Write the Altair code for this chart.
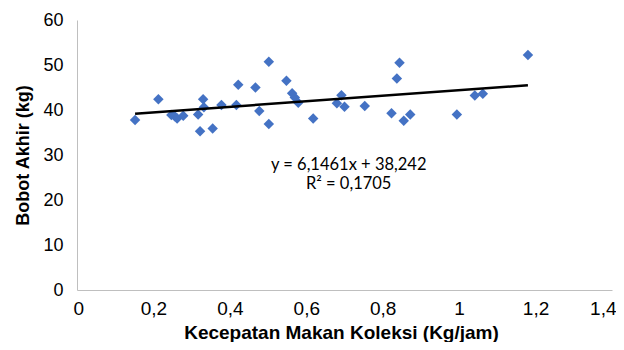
import altair as alt
import pandas as pd

kecepatan = [0.152, 0.213, 0.247, 0.256, 0.262, 0.278, 0.317, 0.322, 0.330, 0.332,
             0.355, 0.378, 0.417, 0.422, 0.467, 0.477, 0.502, 0.502, 0.548, 0.563,
             0.570, 0.579, 0.618, 0.680, 0.692, 0.700, 0.753, 0.823, 0.837, 0.844,
             0.855, 0.872, 0.994, 1.041, 1.062, 1.180]
bobot = [37.8, 42.4, 38.9, 38.6, 38.1, 38.7, 39.0, 35.3, 42.4, 40.6,
         35.9, 41.1, 41.1, 45.6, 45.0, 39.8, 50.7, 36.9, 46.5, 43.7,
         42.8, 41.6, 38.1, 41.5, 43.3, 40.7, 40.9, 39.3, 47.0, 50.5,
         37.6, 39.0, 39.0, 43.2, 43.6, 52.2]

slope = 6.1461
intercept = 38.242
eq_lines = ["y = 6,1461x + 38,242", "R² = 0,1705"]

df = pd.DataFrame({"x": kecepatan, "y": bobot})
xs = [min(kecepatan), max(kecepatan)]
trend = pd.DataFrame({"x": xs, "y": [intercept + slope * v for v in xs]})
eq = pd.DataFrame({"x": [0.711, 0.711], "y": [27.8, 23.6], "t": eq_lines})

label_expr = "replace(format(datum.value, '~g'), '.', ',')"

x_enc = alt.X("x:Q", scale=alt.Scale(domain=[0, 1.4], nice=False),
              axis=alt.Axis(values=[0, 0.2, 0.4, 0.6, 0.8, 1, 1.2, 1.4], labelExpr=label_expr,
                            labelFlush=True, labelFlushOffset=4, labelFontSize=19, labelPadding=9,
                            title="Kecepatan Makan Koleksi  (Kg/jam)", titleX=264,
                            titleY=48, titleBaseline="alphabetic", titleFontSize=19))
y_enc = alt.Y("y:Q", scale=alt.Scale(domain=[0, 60], nice=False),
              axis=alt.Axis(values=[0, 10, 20, 30, 40, 50, 60], title="Bobot Akhir (kg)",
                            titlePadding=10, labelPadding=14, titleFontSize=18, labelFontSize=18))

points = alt.Chart(df).mark_point(shape="diamond", filled=True, opacity=1, size=110,
                                  color="#4472C4").encode(x=x_enc, y=y_enc)
line = alt.Chart(trend).mark_line(color="black", strokeWidth=2.5).encode(x="x:Q", y="y:Q")
text = alt.Chart(eq).mark_text(font="Lato", fontSize=16.5, color="black").encode(
    x="x:Q", y="y:Q", text="t:N")

chart = alt.layer(points, line, text).properties(
    width=535, height=270,
    autosize=alt.AutoSizeParams(type="none"),
    padding={"left": 69, "top": 12, "right": 4, "bottom": 52},
).configure_view(stroke=None).configure_axis(
    grid=False, ticks=False, domainColor="#BFBFBF", domainWidth=1,
    labelFont="Liberation Sans", labelColor="black",
    titleFont="Liberation Sans", titleFontWeight="bold", titleColor="black",
)

chart.save("out.html", embed_options={"renderer": "svg", "actions": False})
